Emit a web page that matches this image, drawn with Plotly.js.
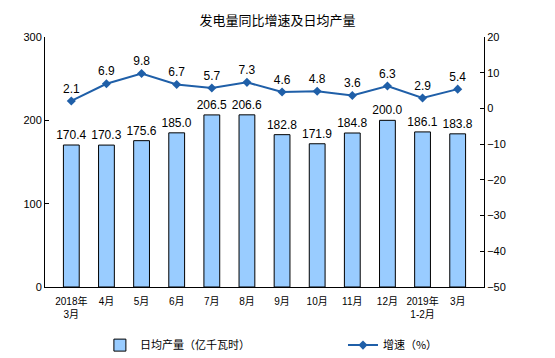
<!DOCTYPE html>
<html><head><meta charset="utf-8">
<script src="https://cdn.plot.ly/plotly-3.0.1.min.js"></script>
<style>html,body{margin:0;padding:0;background:#fff}#c{width:555px;height:358px}</style>
</head><body><div id="c"></div>
<script>
const categories = ["2018年<br>3月","4月","5月","6月","7月","8月","9月","10月","11月","12月","2019年<br>1-2月","3月"];
const dailyOutput = [170.4,170.3,175.6,185.0,206.5,206.6,182.8,171.9,184.8,200.0,186.1,183.8];
const growth = [2.1,6.9,9.8,6.7,5.7,7.3,4.6,4.8,3.6,6.3,2.9,5.4];
const barName = "日均产量（亿千瓦时）";
const lineName = "增速（%）";
const titleText = "发电量同比增速及日均产量";

const F = "Liberation Sans, Arial, Noto Sans CJK SC, sans-serif";
const CJK = "Noto Sans CJK SC, sans-serif";
const data = [
  {type:'bar', x:categories, y:dailyOutput, name:barName, legend:'legend',
   marker:{color:'#99CCFF', line:{color:'#000', width:1}}, width:0.45,
   text:dailyOutput.map(v=>v.toFixed(1)), textposition:'outside', constraintext:'none', cliponaxis:false,
   textfont:{family:F, size:12, color:'#000'}},
  {type:'scatter', mode:'lines+markers+text', x:categories, y:growth, yaxis:'y2', name:lineName, legend:'legend2',
   line:{color:'#1F5FA8', width:2}, marker:{symbol:'diamond', size:7, color:'#1F5FA8'},
   text:growth.map(v=>v.toFixed(1)), textposition:'top center', cliponaxis:false,
   textfont:{family:F, size:12, color:'#000'}}
];
const layout = {
  width:555, height:358, margin:{l:45, r:71, t:37, b:71},
  paper_bgcolor:'#fff', plot_bgcolor:'#fff',
  font:{family:F, size:11, color:'#000'},
  title:{text:titleText, x:0.5, xanchor:'center', y:0.955, font:{family:CJK, size:13, color:'#000'}},
  showlegend:true,
  legend:{orientation:'h', xref:'container', yref:'container', x:0.18, y:0.036, xanchor:'left', yanchor:'middle', bgcolor:'rgba(0,0,0,0)',
    font:{family:CJK, size:11, color:'#000'}},
  legend2:{orientation:'h', xref:'container', yref:'container', x:0.618, y:0.036, xanchor:'left', yanchor:'middle', bgcolor:'rgba(0,0,0,0)',
    font:{family:CJK, size:11, color:'#000'}},
  xaxis:{type:'category', automargin:false, showline:true, linecolor:'#000', linewidth:1, ticks:'', showgrid:false,
    ticklabelstandoff:5, tickfont:{family:"Liberation Sans, Noto Sans CJK SC, sans-serif", size:10}},
  yaxis:{range:[0,300], dtick:100, automargin:false, showline:true, linecolor:'#000', ticks:'inside', ticklen:4, tickcolor:'#000',
    showgrid:false, zeroline:false, tickfont:{size:11}},
  yaxis2:{overlaying:'y', side:'right', range:[-50,20], dtick:10, automargin:false, showline:true, linecolor:'#000', ticks:'inside', ticklen:4, tickcolor:'#000',
    showgrid:false, zeroline:false, tickfont:{size:11}}
};
Plotly.newPlot('c', data, layout, {displayModeBar:false, staticPlot:true});
</script></body></html>
